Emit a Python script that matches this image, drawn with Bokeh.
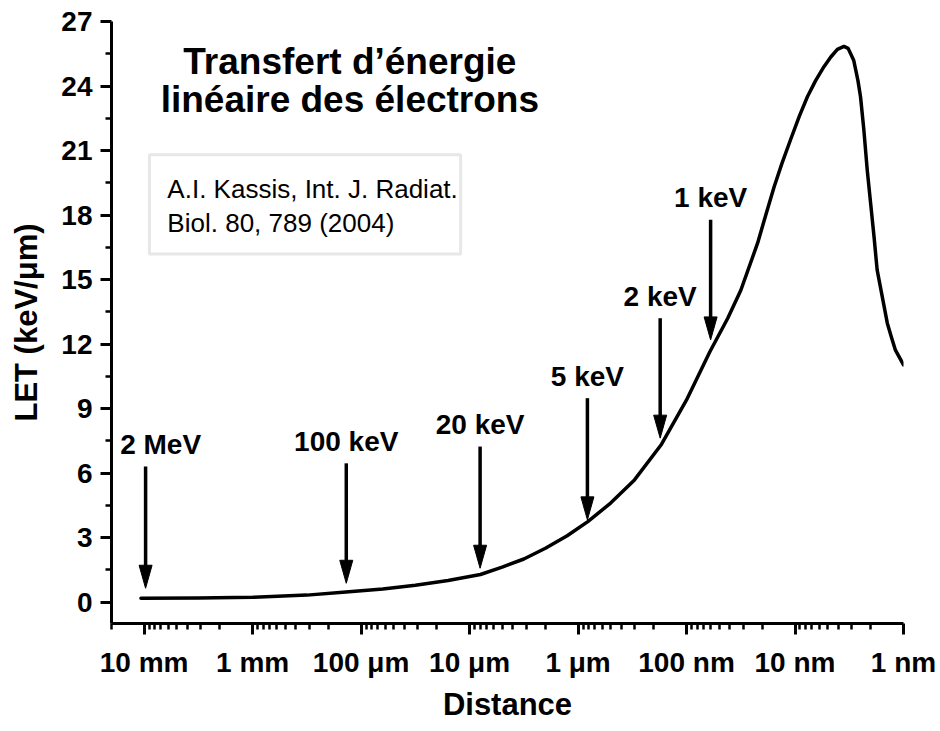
import math

from bokeh.core.properties import value
from bokeh.embed import file_html
from bokeh.models import (BoxAnnotation, CustomJSTickFormatter, FixedTicker,
                          Label, Range1d)
from bokeh.plotting import figure
from bokeh.resources import INLINE

# LET curve of electrons along their track (distance in nm, LET in keV/µm)
distance_nm = [1.07e7, 3.16e6, 1.0e6, 3.16e5, 1.38e5, 6.31e4, 3.16e4, 1.58e4,
               7.94e3, 5.01e3, 3.16e3, 2.0e3, 1.26e3, 813, 501, 302, 172, 100,
               60.8, 41.7, 31.6, 22.1, 18.6, 15.6, 13.2, 11.0, 9.12, 7.69, 6.46,
               5.41, 4.68, 4.07, 3.54, 3.24, 3.07, 2.88, 2.76, 2.63, 2.49, 2.32,
               2.16, 2.01, 1.87, 1.75, 1.57, 1.41, 1.29, 1.19, 1.0]
let_kev_um = [0.18, 0.19, 0.22, 0.32, 0.47, 0.6, 0.78, 1.0,
              1.28, 1.62, 2.0, 2.5, 3.08, 3.74, 4.6, 5.68, 7.3, 9.4,
              11.65, 13.2, 14.5, 16.7, 18.0, 19.3, 20.4, 21.5, 22.6, 23.5, 24.25,
              24.9, 25.35, 25.7, 25.84, 25.75, 25.5, 25.2, 24.76, 24.25, 23.5, 21.96,
              20.1, 18.55, 17.0, 15.45, 14.2, 12.97, 12.3, 11.73, 11.03]

# Residual electron energy markers
arrow_labels = ["2 MeV", "100 keV", "20 keV", "5 keV", "2 keV", "1 keV"]
arrow_x_nm = [9.7e6, 1.37e5, 8.0e3, 820, 175, 60]
arrow_tip = [0.64, 0.87, 1.57, 3.82, 7.62, 12.19]
arrow_top = [6.3, 6.45, 7.23, 9.48, 13.2, 17.78]

# Axis ticks
tick_values_nm = [1e7, 1e6, 1e5, 1e4, 1e3, 100, 10, 1]
tick_labels = ["10 mm", "1 mm", "100 μm", "10 μm", "1 μm", "100 nm", "10 nm", "1 nm"]
y_ticks = [0, 3, 6, 9, 12, 15, 18, 21, 24, 27]

X_START, X_END = 2e7, 1.0
Y_START, Y_END = -1, 27
W, H = 940, 731
BL, BR, BT, BB = 111, 37, 21, 108
FONT = "Liberation Sans"

p = figure(width=W, height=H, x_axis_type="log",
           x_range=Range1d(X_START, X_END), y_range=Range1d(Y_START, Y_END),
           output_backend="svg", toolbar_location=None,
           min_border_left=BL, min_border_right=BR,
           min_border_top=BT, min_border_bottom=BB)
p.outline_line_color = None
p.grid.visible = False
p.background_fill_color = "white"
p.border_fill_color = "white"

# pixel scales of the frame, used to size the arrow heads
frame_w = W - BL - BR
frame_h = H - BT - BB
px_per_decade = frame_w / math.log10(X_START / X_END)
px_per_unit = frame_h / (Y_END - Y_START)
head_len = 23 / px_per_unit
head_half = 6.5 / px_per_decade

# x axis
minor_x = [k * 10 ** n for n in range(0, 8) for k in range(2, 10) if k * 10 ** n <= X_START]
p.xaxis.ticker = FixedTicker(ticks=tick_values_nm, minor_ticks=minor_x)
p.xaxis.formatter = CustomJSTickFormatter(
    args=dict(vals=tick_values_nm, labs=tick_labels),
    code="""
    for (let i = 0; i < vals.length; i++) {
        if (Math.abs(Math.log10(vals[i]) - Math.log10(tick)) < 1e-6) return labs[i];
    }
    return "";
    """)
p.xaxis.axis_label = "Distance"

# y axis
p.yaxis.ticker = FixedTicker(ticks=y_ticks, minor_ticks=[t + 1.5 for t in y_ticks[:-1]])
p.yaxis.axis_label = "LET (keV/μm)"

for ax in (p.xaxis[0], p.yaxis[0]):
    ax.axis_line_width = 3
    ax.axis_line_color = "black"
    ax.major_tick_line_width = 3
    ax.minor_tick_line_width = 2.5
    ax.major_tick_line_color = "black"
    ax.minor_tick_line_color = "black"
    ax.major_tick_out = 11
    ax.major_tick_in = 0
    ax.minor_tick_out = 6
    ax.minor_tick_in = 0
    ax.major_label_text_font = FONT
    ax.major_label_text_font_style = "bold"
    ax.major_label_text_font_size = "28px"
    ax.major_label_text_color = "black"
    ax.axis_label_text_font = FONT
    ax.axis_label_text_font_style = "bold"
    ax.axis_label_text_font_size = "31px"
    ax.axis_label_text_color = "black"

p.xaxis.major_label_standoff = 12
p.xaxis.axis_label_standoff = 6
p.yaxis.major_label_standoff = 8
p.yaxis.axis_label_standoff = 14

# LET curve
p.line(distance_nm, let_kev_um, line_width=3.5, line_color="black",
       line_join="round", line_cap="round")

# arrows: shafts and filled heads
p.segment(x0=arrow_x_nm, y0=arrow_top, x1=arrow_x_nm,
          y1=[t + head_len * 0.9 for t in arrow_tip],
          line_width=3.5, line_color="black")
head_xs = [[x * 10 ** head_half, x, x * 10 ** -head_half] for x in arrow_x_nm]
head_ys = [[t + head_len, t, t + head_len] for t in arrow_tip]
p.patches(head_xs, head_ys, fill_color="black", line_color="black", line_width=1)

label_dx = [15, 0, 0, 0, 0, 0]
p.text(x=arrow_x_nm, y=[t + 22 / px_per_unit for t in arrow_top], text=arrow_labels,
       x_offset=label_dx,
       text_font=value(FONT), text_font_style="bold", text_font_size="28px",
       text_align="center", text_baseline="middle", text_color="black")

# title
for txt, yv in (("Transfert d’énergie", 25.13), ("linéaire des électrons", 23.36)):
    p.add_layout(Label(x=1.27e5, y=yv, text=txt, text_font=FONT,
                       text_font_style="bold", text_font_size="37px",
                       text_align="center", text_baseline="middle",
                       text_color="black"))

# reference box
p.add_layout(BoxAnnotation(left=8.94e6, right=1.21e4, top=20.8, bottom=16.19,
                           fill_alpha=0, line_color="#b0b0b0", line_width=3))
for txt, yv in (("A.I. Kassis, Int. J. Radiat.", 19.22), ("Biol. 80, 789 (2004)", 17.64)):
    p.add_layout(Label(x=6.11e6, y=yv, text=txt, text_font=FONT,
                       text_font_size="26px", text_align="left",
                       text_baseline="middle", text_color="black"))

open("out.html", "w").write(file_html(p, INLINE))
